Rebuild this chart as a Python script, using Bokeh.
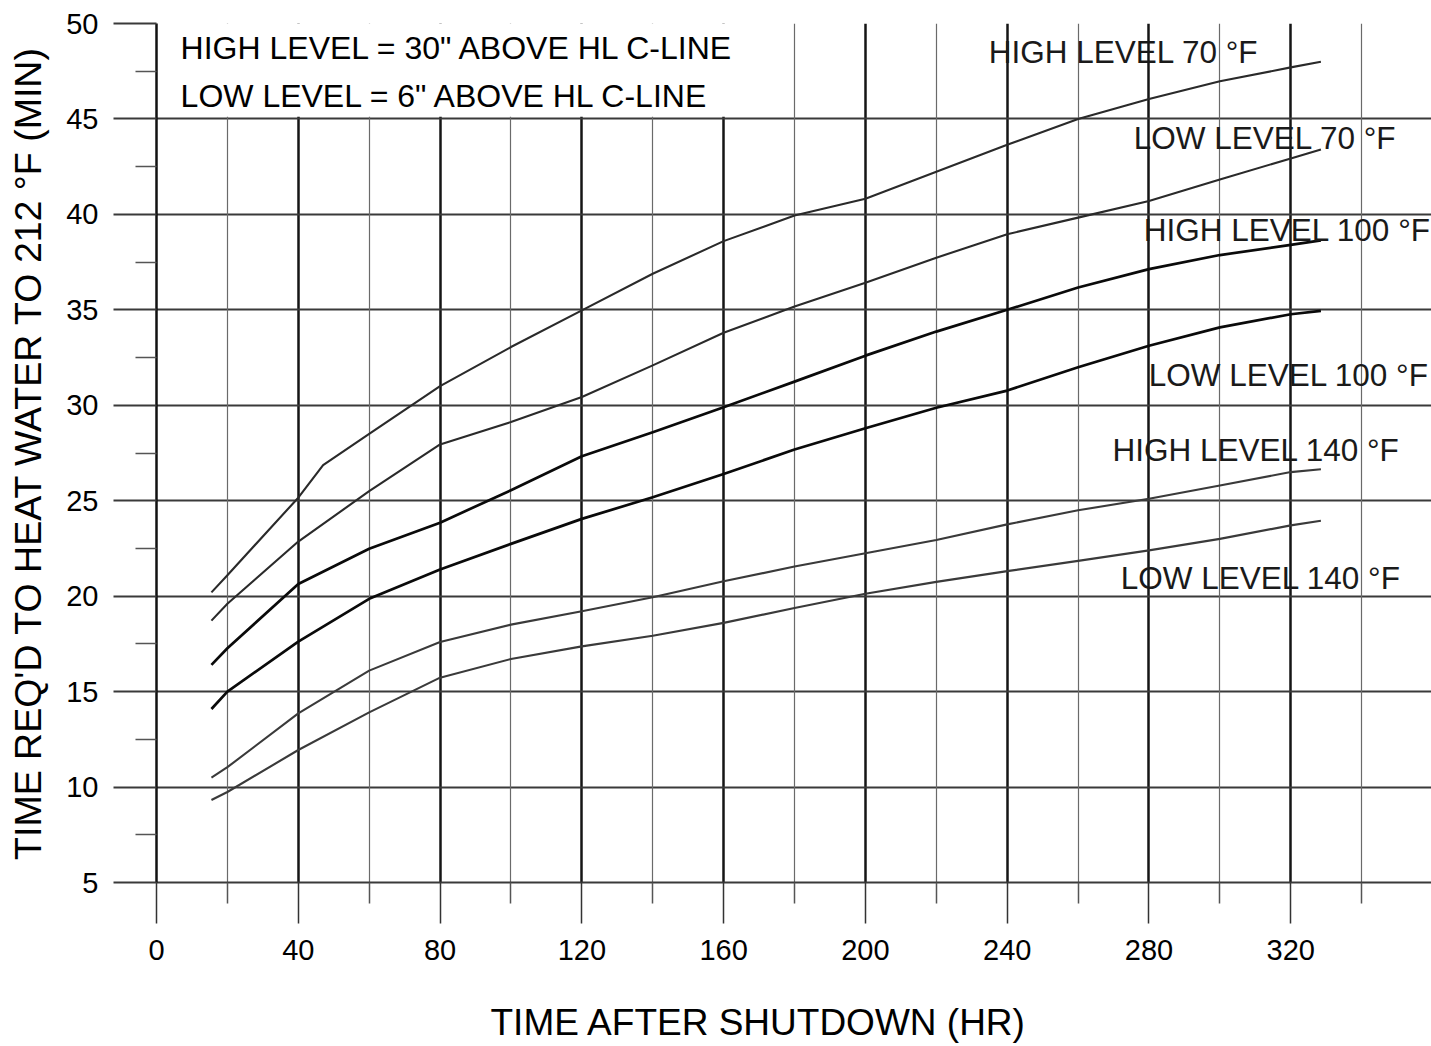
from bokeh.plotting import figure
from bokeh.models import FixedTicker, Grid, Title, ColumnDataSource
from bokeh.core.properties import value
from bokeh.embed import file_html
from bokeh.resources import INLINE

# ---------------- data ----------------
HOURS = [15.5, 20, 40, 60, 80, 100, 120, 140, 160, 180, 200, 220, 240, 260, 280, 300, 320, 328.5]
HOURS_HL70 = [15.5, 20, 40, 47, 60, 80, 100, 120, 140, 160, 180, 200, 220, 240, 260, 280, 300, 320, 328.5]

HIGH_70 = [20.2, 21.1, 25.16, 26.86, 28.5, 31.0, 33.05, 34.97, 36.89, 38.6, 39.94, 40.82, 42.23, 43.65, 45.0, 46.05, 46.97, 47.7, 48.0]
LOW_70 = [18.72, 19.6, 22.86, 25.5, 27.95, 29.12, 30.43, 32.09, 33.8, 35.17, 36.42, 37.73, 38.96, 39.83, 40.7, 41.83, 42.93, 43.4]
HIGH_100 = [16.4, 17.27, 20.64, 22.48, 23.85, 25.55, 27.33, 28.59, 29.9, 31.24, 32.6, 33.86, 35.0, 36.17, 37.13, 37.87, 38.4, 38.64]
LOW_100 = [14.09, 15.0, 17.62, 19.86, 21.4, 22.74, 24.05, 25.18, 26.4, 27.68, 28.8, 29.87, 30.77, 31.99, 33.12, 34.08, 34.77, 34.95]
HIGH_140 = [10.5, 11.04, 13.86, 16.1, 17.6, 18.51, 19.21, 19.94, 20.78, 21.55, 22.25, 22.94, 23.76, 24.5, 25.1, 25.8, 26.5, 26.65]
LOW_140 = [9.32, 9.74, 11.94, 13.91, 15.73, 16.71, 17.37, 17.93, 18.6, 19.38, 20.13, 20.75, 21.31, 21.85, 22.4, 23.0, 23.71, 23.95]

CURVE_LABELS = ["HIGH LEVEL 70 °F", "LOW LEVEL 70 °F", "HIGH LEVEL 100 °F",
                "LOW LEVEL 100 °F", "HIGH LEVEL 140 °F", "LOW LEVEL 140 °F"]
NOTES = ['HIGH LEVEL = 30" ABOVE HL C-LINE', 'LOW LEVEL = 6" ABOVE HL C-LINE']

X_TICKS = [0, 40, 80, 120, 160, 200, 240, 280, 320]
X_MINOR = [20, 60, 100, 140, 180, 220, 260, 300, 340]
Y_TICKS = [5, 10, 15, 20, 25, 30, 35, 40, 45, 50]
Y_MINOR = [7.5, 12.5, 17.5, 22.5, 27.5, 32.5, 37.5, 42.5, 47.5]

X_TITLE = "TIME AFTER SHUTDOWN (HR)"
Y_TITLE = "TIME REQ'D TO HEAT WATER TO 212 °F (MIN)"

# label anchor positions (data units)
CURVE_LABEL_X = [234.8, 275.7, 278.5, 279.9, 269.7, 272.0]
CURVE_LABEL_Y = [48.5, 43.98, 39.16, 31.57, 27.64, 20.93]
NOTE_X = [6.8, 6.8]
NOTE_Y = [48.71, 46.19]

FONT = "Liberation Sans"

p = figure(width=1431, height=1046, x_range=(0, 359.7), y_range=(5, 50),
           output_backend="svg", toolbar_location=None,
           min_border_left=156, min_border_right=0, min_border_top=23, min_border_bottom=164)
p.outline_line_color = None
p.background_fill_color = "white"
p.border_fill_color = "white"

# grids
p.xgrid.ticker = FixedTicker(ticks=X_TICKS)
p.xgrid.grid_line_color = "#151515"
p.xgrid.grid_line_width = 2.5
p.ygrid.ticker = FixedTicker(ticks=Y_TICKS)
p.ygrid.grid_line_color = "#3a3a3a"
p.ygrid.grid_line_width = 2.2
minor_grid = Grid(dimension=0, ticker=FixedTicker(ticks=X_MINOR),
                  grid_line_color="#6a6a6a", grid_line_width=1.2)
p.add_layout(minor_grid)

# axes
xa = p.xaxis[0]
xa.ticker = FixedTicker(ticks=X_TICKS, minor_ticks=X_MINOR)
xa.major_tick_out = 41
xa.major_tick_in = 0
xa.minor_tick_out = 21
xa.minor_tick_in = 0
xa.major_tick_line_color = "#333333"
xa.major_tick_line_width = 1.5
xa.minor_tick_line_color = "#555555"
xa.minor_tick_line_width = 1.5
xa.axis_line_color = "#3a3a3a"
xa.axis_line_width = 2.2
xa.major_label_standoff = 16
xa.major_label_text_font = FONT
xa.major_label_text_font_size = "29px"
xa.major_label_text_color = "black"
# spacer so that the title sits lower, as in the original
xa.axis_label = " "
xa.axis_label_text_font_size = "1px"
xa.axis_label_standoff = 29

ya = p.yaxis[0]
ya.ticker = FixedTicker(ticks=Y_TICKS, minor_ticks=Y_MINOR)
ya.major_tick_out = 43
ya.major_tick_in = 0
ya.minor_tick_out = 21
ya.minor_tick_in = 0
ya.major_tick_line_color = "#3a3a3a"
ya.major_tick_line_width = 2
ya.minor_tick_line_color = "#555555"
ya.minor_tick_line_width = 1.5
ya.axis_line_color = "#111111"
ya.axis_line_width = 2.5
ya.major_label_standoff = 15
ya.major_label_text_font = FONT
ya.major_label_text_font_size = "29px"
ya.major_label_text_color = "black"
ya.axis_label = Y_TITLE
ya.axis_label_text_font = FONT
ya.axis_label_text_font_size = "37.5px"
ya.axis_label_text_font_style = "normal"
ya.axis_label_text_color = "black"
ya.axis_label_standoff = 14

# x axis title below, shifted left like the original
xt = Title(text=X_TITLE, align="left", offset=334, text_font=FONT,
           text_font_size="37px", text_font_style="normal", text_color="black",
           vertical_align="bottom", standoff=8)
p.add_layout(xt, "below")

# white box behind notes
p.quad(left=[0.5], right=[170], bottom=[45.12], top=[49.97],
       fill_color="white", line_color=None)

# curves
curve_specs = [
    (HOURS_HL70, HIGH_70, "#2a2a2a", 2.1),
    (HOURS, LOW_70, "#2a2a2a", 2.1),
    (HOURS, HIGH_100, "#0a0a0a", 2.7),
    (HOURS, LOW_100, "#0a0a0a", 2.7),
    (HOURS, HIGH_140, "#3a3a3a", 2.1),
    (HOURS, LOW_140, "#3a3a3a", 2.1),
]
for xs, ys, col, w in curve_specs:
    p.line(xs, ys, line_color=col, line_width=w, line_join="round")

# curve labels
src = ColumnDataSource(dict(x=CURVE_LABEL_X, y=CURVE_LABEL_Y, t=CURVE_LABELS))
p.text(x="x", y="y", text="t", source=src, text_font=value(FONT),
       text_font_size="31.5px", text_color="#1a1a1a",
       text_align="left", text_baseline="middle")

# notes
src2 = ColumnDataSource(dict(x=NOTE_X, y=NOTE_Y, t=NOTES))
p.text(x="x", y="y", text="t", source=src2, text_font=value(FONT),
       text_font_size="32px", text_color="black",
       text_align="left", text_baseline="middle")

open("out.html", "w").write(file_html(p, INLINE))
